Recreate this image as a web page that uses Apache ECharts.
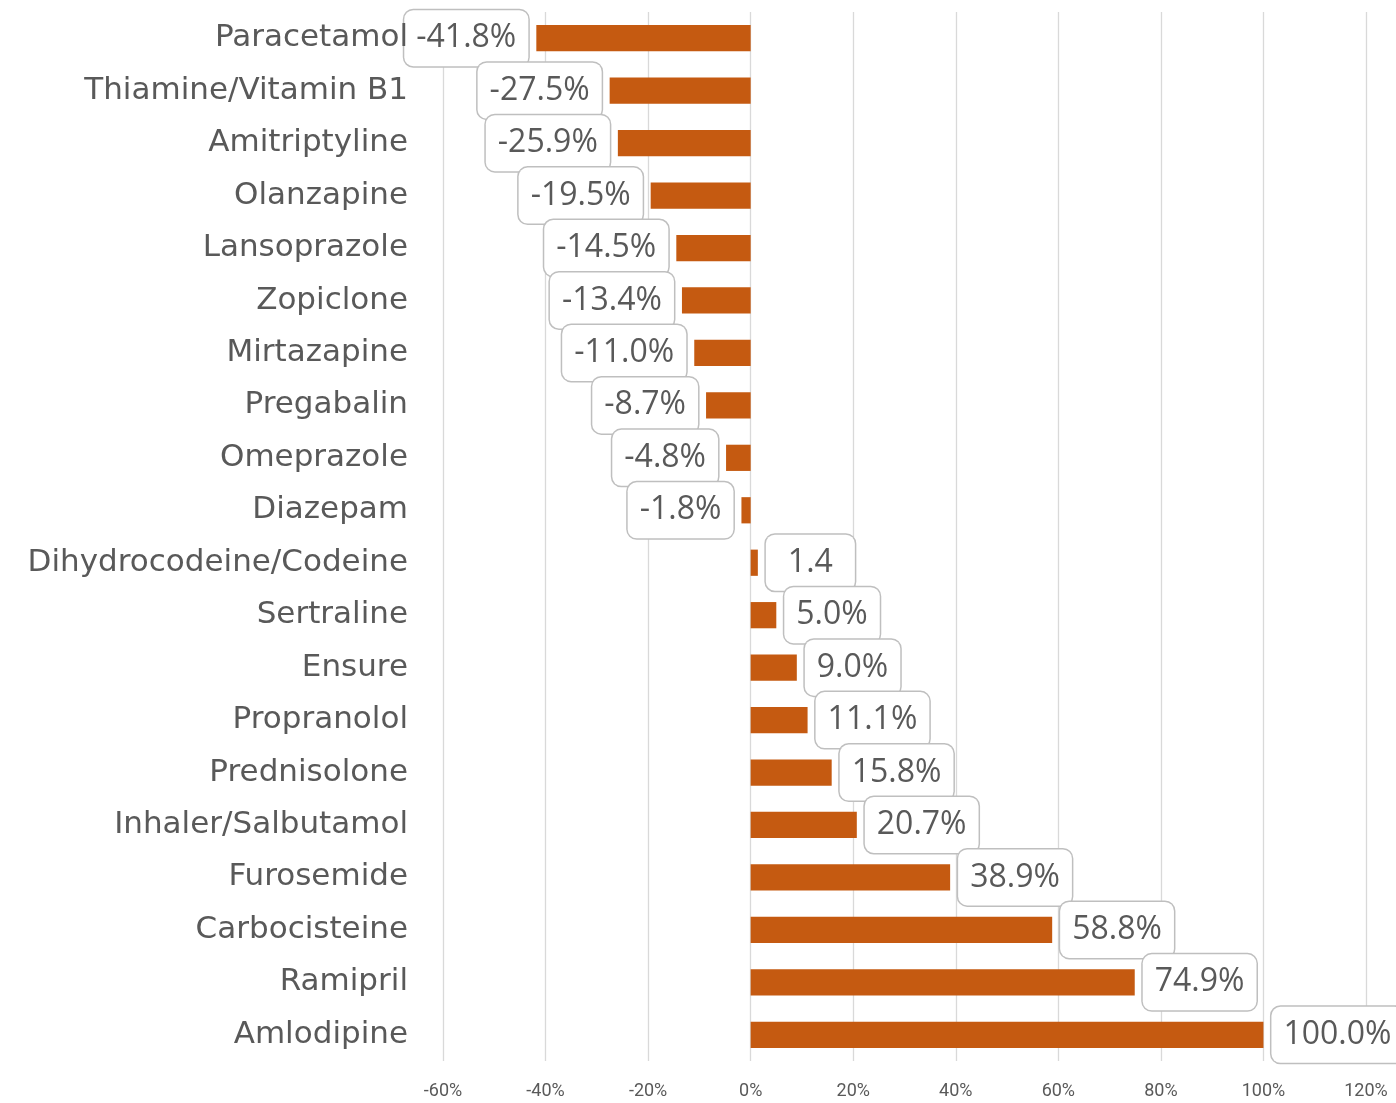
<!DOCTYPE html>
<html>
<head>
<meta charset="utf-8">
<script src="https://cdn.jsdelivr.net/npm/echarts@6/dist/echarts.min.js"></script>
<style>
  html, body { margin: 0; padding: 0; background: #fff; }
  #main { width: 1396px; height: 1103px; }
</style>
</head>
<body>
<div id="main"></div>
<script>
// 药品名称（从上到下）
var categories = ['Paracetamol', 'Thiamine/Vitamin B1', 'Amitriptyline', 'Olanzapine', 'Lansoprazole',
  'Zopiclone', 'Mirtazapine', 'Pregabalin', 'Omeprazole', 'Diazepam', 'Dihydrocodeine/Codeine',
  'Sertraline', 'Ensure', 'Propranolol', 'Prednisolone', 'Inhaler/Salbutamol', 'Furosemide',
  'Carbocisteine', 'Ramipril', 'Amlodipine'];
// 变化百分比
var values = [-41.8, -27.5, -25.9, -19.5, -14.5, -13.4, -11.0, -8.7, -4.8, -1.8,
  1.4, 5.0, 9.0, 11.1, 15.8, 20.7, 38.9, 58.8, 74.9, 100.0];
// 数据标签文字
var labelTexts = ['-41.8%', '-27.5%', '-25.9%', '-19.5%', '-14.5%', '-13.4%', '-11.0%', '-8.7%', '-4.8%', '-1.8%',
  '1.4', '5.0%', '9.0%', '11.1%', '15.8%', '20.7%', '38.9%', '58.8%', '74.9%', '100.0%'];

var myChart = echarts.init(document.getElementById('main'));

var seriesData = values.map(function (v, i) {
  var lbl = {
    position: v < 0 ? 'left' : 'right',
    formatter: labelTexts[i]
  };
  // 没有百分号的标签，框宽和其他一样
  if (labelTexts[i].indexOf('%') < 0) {
    lbl.padding = [12, 22, 12, 22];
  }
  return { value: v, label: lbl };
});

var option = {
  animation: false,
  grid: { left: 443, right: 30, top: 12, bottom: 42, containLabel: false },
  xAxis: {
    type: 'value',
    min: -60,
    max: 120,
    interval: 20,
    axisLine: { show: false },
    axisTick: { show: false },
    splitLine: { show: true, lineStyle: { color: '#d9d9d9', width: 1.3 } },
    axisLabel: {
      formatter: '{value}%',
      color: '#595959',
      fontSize: 18,
      fontFamily: 'Liberation Sans Narrow, Roboto, sans-serif',
      margin: 21
    }
  },
  yAxis: {
    type: 'category',
    data: categories,
    inverse: true,
    z: 5,
    axisLine: { show: false },
    axisTick: { show: false },
    splitLine: { show: false },
    axisLabel: {
      color: '#595959',
      fontSize: 31,
      fontFamily: 'DejaVu Sans, sans-serif',
      margin: 35
    }
  },
  series: [{
    type: 'bar',
    data: seriesData,
    barWidth: '50%',
    itemStyle: { color: '#c55a11' },
    label: {
      show: true,
      color: '#595959',
      fontSize: 32,
      fontFamily: 'Open Sans, sans-serif',
      backgroundColor: '#ffffff',
      borderColor: '#bfbfbf',
      borderWidth: 1.5,
      borderRadius: 9,
      padding: [12, 12, 12, 12],
      distance: 8
    },
    labelLayout: { hideOverlap: false }
  }]
};

myChart.setOption(option);
</script>
</body>
</html>
